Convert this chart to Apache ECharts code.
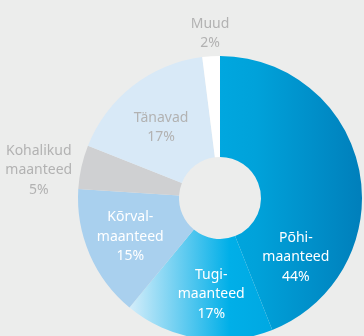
<!DOCTYPE html>
<html>
<head>
<meta charset="utf-8">
<style>
  html, body { margin: 0; padding: 0; background: #ecedec; }
  #chart { width: 364px; height: 336px; }
</style>
<script src="https://cdn.jsdelivr.net/npm/echarts@6/dist/echarts.min.js"></script>
</head>
<body>
<div id="chart"></div>
<script>
// Road network split by road type (share of total length, %)
const categories = ['Põhi-\nmaanteed', 'Tugi-\nmaanteed', 'Kõrval-\nmaanteed', 'Kohalikud\nmaanteed', 'Tänavad', 'Muud'];
const shares = [44, 17, 15, 5, 17, 2];

// Slice fills
const fills = [
  { type: 'linear', x: 0, y: 0, x2: 1, y2: 0, colorStops: [
    { offset: 0, color: '#00a7df' }, { offset: 0.25, color: '#00a2da' }, { offset: 1, color: '#007fbb' } ] },
  { type: 'linear', x: 0, y: 0, x2: 1, y2: 0, colorStops: [
    { offset: 0, color: '#d4edfa' }, { offset: 0.7, color: '#00afe8' }, { offset: 1, color: '#00a8e2' } ] },
  '#a9d0ee',
  '#cfd0d2',
  '#d8e9f7',
  '#ffffff'
];
const labelColors = ['#ffffff', '#ffffff', '#ffffff', '#b2b2b2', '#b2b2b2', '#b2b2b2'];
// Label shifts from the default inside anchor
const labelShift = [[-17, 77], [6, 3], [-3, 1], [-89, -7], [-1, 4], [-4, -70]];

const chart = echarts.init(document.getElementById('chart'), null, { renderer: 'canvas' });
chart.setOption({
  backgroundColor: '#ecedec',
  animation: false,
  series: [{
    type: 'pie',
    center: [220, 198],
    radius: [41, 142],
    startAngle: 90,
    clockwise: true,
    avoidLabelOverlap: false,
    label: {
      position: 'inside',
      formatter: p => p.name + '\n' + p.value + '%',
      fontFamily: 'Noto Sans',
      fontSize: 14,
      lineHeight: 19.5,
      align: 'center'
    },
    labelLine: { show: false },
    itemStyle: { borderWidth: 0 },
    emphasis: { disabled: true },
    data: categories.map((name, i) => ({
      name: name,
      value: shares[i],
      itemStyle: { color: fills[i] },
      label: { color: labelColors[i], offset: labelShift[i] }
    }))
  }]
});
</script>
</body>
</html>
